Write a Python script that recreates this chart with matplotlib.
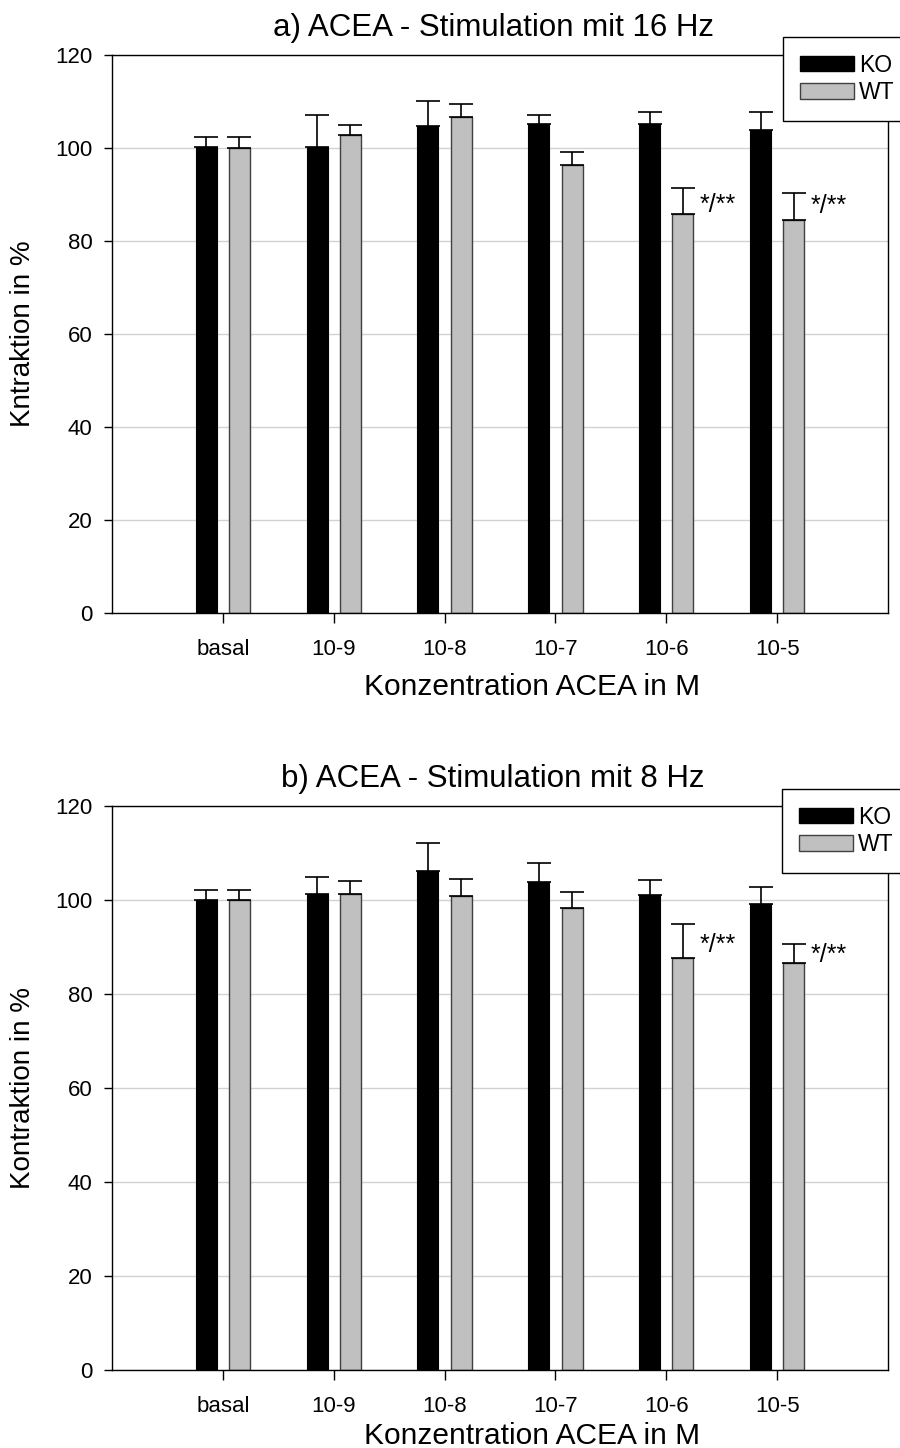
import matplotlib
matplotlib.use("Agg")
import matplotlib.pyplot as plt
import numpy as np
from matplotlib.patches import Patch

plt.rcParams['font.family'] = ['Liberation Sans', 'DejaVu Sans']

categories = ['basal', '10-9', '10-8', '10-7', '10-6', '10-5']

# Panel a) 16 Hz
ko_a = [100.2, 100.2, 104.8, 105.2, 105.2, 103.9]
ko_a_err = [2.2, 6.8, 5.3, 1.9, 2.5, 3.9]
wt_a = [100.0, 102.7, 106.6, 96.3, 85.9, 84.6]
wt_a_err = [2.4, 2.3, 2.9, 2.8, 5.4, 5.7]

# Panel b) 8 Hz
ko_b = [100.0, 101.3, 106.2, 103.9, 101.0, 99.1]
ko_b_err = [2.1, 3.5, 5.9, 4.0, 3.3, 3.6]
wt_b = [100.0, 101.3, 100.9, 98.2, 87.6, 86.6]
wt_b_err = [2.1, 2.7, 3.5, 3.5, 7.4, 4.0]

sig_a = {4: 87.7, 5: 87.5}
sig_b = {4: 90.4, 5: 88.3}

titles = ['a) ACEA - Stimulation mit 16 Hz', 'b) ACEA - Stimulation mit 8 Hz']
ylabels = ['Kntraktion in %', 'Kontraktion in %']
xlabel = 'Konzentration ACEA in M'

W, H = 900, 1448
fig = plt.figure(figsize=(W / 100, H / 100), dpi=100)

axes_px = [(112, 55, 888, 613), (112, 806, 888, 1370)]
legend_px = [(783, 37), (782, 789)]
xlabel_y = [-0.108, -0.093]

data = [(ko_a, ko_a_err, wt_a, wt_a_err, sig_a), (ko_b, ko_b_err, wt_b, wt_b_err, sig_b)]

x = np.arange(len(categories))
bw = 0.19
off = 0.15
gray = '#c0c0c0'

for i, ((ko, koe, wt, wte, sig), (l, t, r, b)) in enumerate(zip(data, axes_px)):
    ax = fig.add_axes([l / W, 1 - b / H, (r - l) / W, (b - t) / H])
    ax.set_axisbelow(True)
    ax.yaxis.grid(True, color='#d2d2d2', linewidth=1.0)
    ax.bar(x - off, ko, width=bw, color='black', edgecolor='black', linewidth=0.8, zorder=2)
    ax.bar(x + off, wt, width=bw, color=gray, edgecolor='#404040', linewidth=1.0, zorder=2)
    ax.errorbar(x - off, ko, yerr=[np.zeros(len(ko)), koe], fmt='none', ecolor='black',
                elinewidth=1.2, capsize=8.5, capthick=1.2, zorder=3)
    ax.errorbar(x + off, wt, yerr=[np.zeros(len(wt)), wte], fmt='none', ecolor='black',
                elinewidth=1.2, capsize=8.5, capthick=1.2, zorder=3)
    for k, yv in sig.items():
        ax.text(k + 0.30, yv, '*/**', fontsize=18, ha='left', va='center')
    ax.set_xlim(-1, 6)
    ax.set_ylim(0, 120)
    ax.set_yticks(np.arange(0, 121, 20))
    ax.set_xticks(x)
    ax.set_xticklabels(categories)
    ax.tick_params(axis='both', direction='out', labelsize=16, width=1.0, color='black')
    ax.tick_params(axis='x', length=7, pad=12)
    ax.tick_params(axis='y', length=6, pad=8)
    for s in ax.spines.values():
        s.set_linewidth(1.0)
        s.set_color('black')
    ax.set_title(titles[i], fontsize=22.5, pad=13.5, x=0.491)
    ax.set_xlabel(xlabel, fontsize=21.5)
    ax.xaxis.set_label_coords(0.541, xlabel_y[i])
    ax.set_ylabel(ylabels[i], fontsize=20, labelpad=14)

    lx, ly = legend_px[i]
    handles = [Patch(facecolor='black', edgecolor='black', label='KO'),
               Patch(facecolor=gray, edgecolor='#404040', label='WT')]
    leg = fig.legend(handles=handles, loc='upper left', bbox_to_anchor=(lx / W, 1 - ly / H),
                     fontsize=16.5, frameon=True, fancybox=False, edgecolor='black',
                     framealpha=1, handlelength=2.36, handleheight=0.65, handletextpad=0.25,
                     borderpad=0.72, labelspacing=0.2, borderaxespad=0)
    leg.get_frame().set_linewidth(1.0)

fig.savefig('out.png', dpi=100)
